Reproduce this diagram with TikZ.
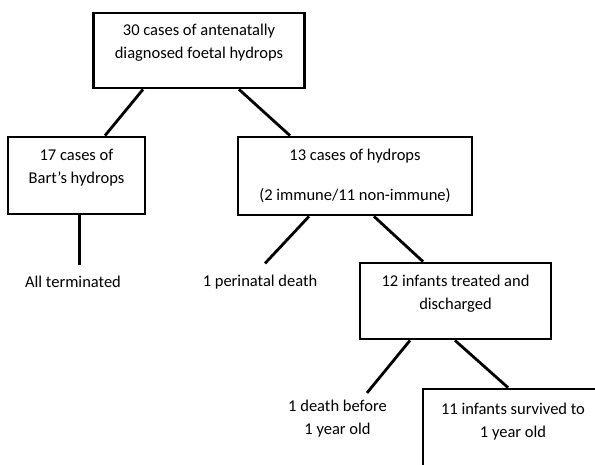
\documentclass[tikz,border=0pt]{standalone}
\usepackage{fontspec}
\setmainfont{Carlito}
\usetikzlibrary{positioning}
\tikzstyle{block} = [rectangle, draw, line width=2.8pt, align=center, minimum height=76pt]
\tikzstyle{outcome} = [align=center]
\tikzstyle{branch} = [line width=2.8pt]

\begin{document}
\begin{tikzpicture}[x=1pt, y=1pt, node distance=125pt, font=\fontsize{16.5}{23}\selectfont]
    \useasboundingbox (0,0) rectangle (595,-464);
    \clip (0,0) rectangle (595,-464);

    % Boxes
    \node (total) [block, minimum width=211pt, minimum height=75pt] at (199,-50.5) {30 cases of antenatally\\diagnosed foetal hydrops\\[-5pt]~};
    \node (bart) [block, below of=total, xshift=-122.5pt, minimum width=137pt, minimum height=77pt] {17 cases of\\Bart’s hydrops\\[-5pt]~};
    \node (hydrops) [block, below of=total, xshift=156pt, yshift=-0.5pt, minimum width=234pt, minimum height=78pt] {13 cases of hydrops\\[17pt](2 immune/11 non-immune)};
    \node (treated) [block, below of=hydrops, xshift=100.5pt, minimum width=191pt] {12 infants treated and\\discharged\\[-5pt]~};
    \node (survived) [block, below of=treated, xshift=57.5pt, yshift=-3pt, minimum width=180pt, minimum height=80pt] {11 infants survived to\\1 year old\\[-5pt]~};

    % Outcomes
    \node (terminated) [outcome, below of=bart, xshift=-3.5pt, yshift=18.5pt] {All terminated};
    \node (perinatal) [outcome, below of=hydrops, xshift=-95pt, yshift=19pt] {1 perinatal death};
    \node (death) [outcome, below of=treated, xshift=-118pt, yshift=7pt] {1 death before\\1 year old};

    % Branches
    \draw [branch] ([xshift=-56pt]total.south) -- ([xshift=28.5pt]bart.north);
    \draw [branch] ([xshift=40pt]total.south) -- ([xshift=-65pt]hydrops.north);
    \draw [branch] ([xshift=3pt]bart.south) -- ([xshift=6.5pt, yshift=8pt]terminated.north);
    \draw [branch] ([xshift=-46pt]hydrops.south) -- ([xshift=5pt, yshift=8pt]perinatal.north);
    \draw [branch] ([xshift=19pt]hydrops.south) -- ([xshift=-32.5pt]treated.north);
    \draw [branch] ([xshift=-45.5pt]treated.south) -- ([xshift=29.5pt, yshift=4pt]death.north);
    \draw [branch] ([xshift=-0.5pt]treated.south) -- ([xshift=-5pt]survived.north);

\end{tikzpicture}
\end{document}
